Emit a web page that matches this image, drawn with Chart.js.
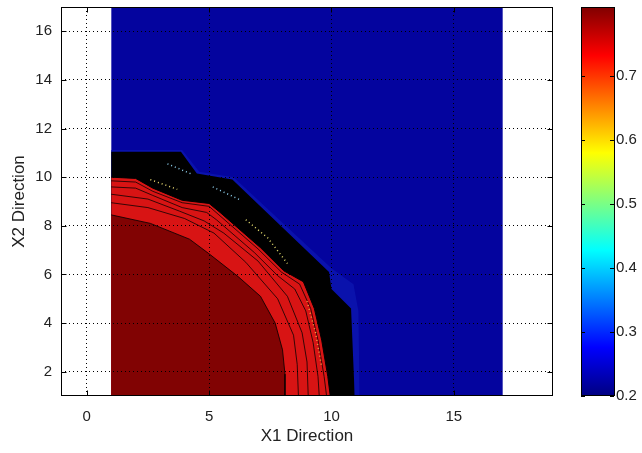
<!DOCTYPE html>
<html>
<head>
<meta charset="utf-8">
<script src="https://cdn.jsdelivr.net/npm/chart.js@4/dist/chart.umd.min.js"></script>
<style>
  html, body { margin: 0; padding: 0; background: #fff; }
  canvas { display: block; }
</style>
</head>
<body>
<canvas id="plot" width="642" height="453"></canvas>
<script>
// axis setup
const xRange = [-1.05, 19.05];
const yRange = [1, 17];
const cbRange = [0.2, 0.808];
const xTicks = [0, 5, 10, 15];
const yTicks = [2, 4, 6, 8, 10, 12, 14, 16];
const cbTicks = [0.2, 0.3, 0.4, 0.5, 0.6, 0.7];

// contour boundaries, [x1, x2] pairs
const fieldTop = [[1, 17], [17, 17]];
const fringeEdge = [[1, 11.12], [3.9, 11.12], [4.6, 10.22], [6.0, 10.0], [10.0, 6.25], [10.9, 5.6], [11.1, 4.5], [11.15, 1]];
const outerEdge = [[1, 11.05], [3.85, 11.05], [4.5, 10.15], [5.95, 9.9], [9.9, 6.1], [10.0, 5.4], [10.8, 4.6], [10.95, 1]];
const innerEdge = [[1, 10.0], [2.0, 9.95], [2.7, 9.55], [3.9, 9.05], [5.0, 8.92], [5.45, 8.55], [7.1, 7.1], [8.05, 6.15], [8.85, 5.7], [9.3, 4.6], [9.6, 3.3], [9.85, 1.8], [9.95, 1]];
const lineE = [[1, 9.85], [2.0, 9.8], [2.7, 9.42], [3.9, 8.95], [5.0, 8.8], [5.4, 8.45], [7.0, 7.05], [7.95, 6.1], [8.7, 5.6], [9.15, 4.6], [9.45, 3.3], [9.7, 1.8], [9.8, 1]];
const lineD = [[1, 9.6], [2.0, 9.55], [2.7, 9.25], [3.9, 8.75], [4.9, 8.55], [5.3, 8.25], [6.85, 6.9], [7.8, 5.95], [8.5, 5.4], [8.95, 4.5], [9.25, 3.2], [9.45, 1.8], [9.5, 1]];
const lineC = [[1, 9.3], [2.5, 9.1], [3.8, 8.6], [4.8, 8.2], [5.6, 7.7], [7.0, 6.55], [8.2, 5.1], [8.8, 3.6], [9.0, 2.4], [9.05, 1]];
const lineB = [[1, 8.95], [2.5, 8.75], [4.0, 8.3], [5.2, 7.7], [6.5, 6.5], [7.8, 5.0], [8.45, 3.5], [8.6, 2.3], [8.65, 1]];
const darkCore = [[1, 8.45], [2.6, 8.1], [4.2, 7.45], [5.0, 6.85], [6.2, 5.9], [7.1, 5.1], [7.7, 4.0], [8.0, 2.9], [8.1, 1.9], [8.1, 1]];

// speckled contour lines inside the dark band
const cyanDots1 = [[3.3, 10.55], [4.35, 10.1]];
const cyanDots2 = [[5.15, 9.6], [6.3, 9.05]];
const yellowDots1 = [[2.6, 9.9], [3.7, 9.5]];
const yellowDots2 = [[6.5, 8.25], [7.4, 7.5], [8.2, 6.45]];
const orangeDots = [[9.0, 4.9], [9.35, 3.6], [9.6, 2.2]];

// jet colormap used for the colorbar
const jetStops = [0, 0.125, 0.375, 0.625, 0.875, 1];
const jetColors = ["#000080", "#0000ff", "#00ffff", "#ffff00", "#ff0000", "#800000"];

function pts(arr) {
  return arr.map(([x, y]) => ({ x, y }));
}

function region(data, color, order, border) {
  return {
    data: pts(data),
    backgroundColor: color,
    borderColor: border || "rgba(0,0,0,0)",
    borderWidth: border ? 1 : 0,
    fill: "start",
    pointRadius: 0,
    tension: 0,
    order: order,
  };
}

function contour(data, color, order, dash) {
  return {
    data: pts(data),
    borderColor: color,
    borderWidth: dash ? 1.5 : 1,
    borderDash: dash || [],
    fill: false,
    pointRadius: 0,
    tension: 0,
    order: order,
  };
}

const frame = {
  id: "frame",
  afterDraw(chart) {
    const { ctx, chartArea: a, scales } = chart;
    ctx.save();
    ctx.strokeStyle = "#000";
    ctx.lineWidth = 1;
    const L = Math.round(a.left) + 0.5, R = Math.round(a.right) - 0.5;
    const T = Math.round(a.top) + 0.5, B = Math.round(a.bottom) - 0.5;
    ctx.strokeRect(L, T, R - L, B - T);

    ctx.beginPath();
    xTicks.forEach((v) => {
      const p = Math.round(scales.x.getPixelForValue(v)) + 0.5;
      ctx.moveTo(p, B); ctx.lineTo(p, B - 5);
      ctx.moveTo(p, T); ctx.lineTo(p, T + 5);
    });
    yTicks.forEach((v) => {
      const p = Math.round(scales.y.getPixelForValue(v)) + 0.5;
      ctx.moveTo(L, p); ctx.lineTo(L + 5, p);
      ctx.moveTo(R, p); ctx.lineTo(R - 5, p);
    });
    ctx.stroke();

    // colorbar
    const cb = scales.cb;
    const cl = Math.round(a.right) + 28, cw = 33;
    const ct = cb.getPixelForValue(cbRange[1]), cbot = cb.getPixelForValue(cbRange[0]);
    const g = ctx.createLinearGradient(0, cbot, 0, ct);
    jetStops.forEach((s, i) => g.addColorStop(s, jetColors[i]));
    ctx.fillStyle = g;
    ctx.fillRect(cl, ct, cw, cbot - ct);
    ctx.strokeStyle = "#000";
    ctx.strokeRect(cl + 0.5, Math.round(ct) + 0.5, cw, Math.round(cbot - ct) - 1);
    ctx.beginPath();
    cbTicks.forEach((v) => {
      const p = Math.round(cb.getPixelForValue(v)) + 0.5;
      ctx.moveTo(cl, p); ctx.lineTo(cl + 4, p);
      ctx.moveTo(cl + cw, p); ctx.lineTo(cl + cw - 4, p);
    });
    ctx.stroke();
    ctx.restore();
  },
};

Chart.defaults.font.family = "'Liberation Sans', Arial, sans-serif";
Chart.defaults.font.size = 15;
Chart.defaults.color = "#222";

new Chart(document.getElementById("plot"), {
  type: "line",
  data: {
    datasets: [
      contour(cyanDots1, "#8fd0ee", 0, [1, 3]),
      contour(cyanDots2, "#8fd0ee", 0, [1, 3]),
      contour(yellowDots1, "#e8d870", 0, [1, 3]),
      contour(yellowDots2, "#e8e070", 0, [1, 3]),
      contour(orangeDots, "#f0a040", 0, [1, 3]),
      contour(lineE, "rgba(0,0,0,0.75)", 1),
      contour(lineD, "rgba(0,0,0,0.75)", 1),
      contour(lineC, "rgba(0,0,0,0.75)", 1),
      contour(lineB, "rgba(0,0,0,0.75)", 1),
      region(darkCore, "#810303", 2, "rgba(0,0,0,0.8)"),
      region(innerEdge, "#d81414", 3, "#000"),
      region(outerEdge, "#000000", 4),
      region(fringeEdge, "#0a12ac", 5),
      region(fieldTop, "#04049e", 6),
    ],
  },
  options: {
    responsive: false,
    animation: false,
    events: [],
    layout: { padding: { top: 7, left: 0, right: 0, bottom: 0 } },
    plugins: { legend: { display: false }, tooltip: { enabled: false } },
    scales: {
      x: {
        type: "linear",
        min: xRange[0],
        max: xRange[1],
        afterBuildTicks: (s) => { s.ticks = xTicks.map((v) => ({ value: v })); },
        afterFit: (s) => { s.height = 57; s.paddingLeft = 0; s.paddingRight = 0; },
        grid: { color: "#000", lineWidth: 1, drawTicks: false, z: 1 },
        border: { display: false, dash: [1, 3] },
        ticks: { padding: 12, color: "#222" },
        title: { display: true, text: "X1 Direction", font: { size: 17 }, padding: { top: 0, bottom: 6 }, color: "#222" },
      },
      y: {
        type: "linear",
        position: "left",
        min: yRange[0],
        max: yRange[1],
        afterBuildTicks: (s) => { s.ticks = yTicks.map((v) => ({ value: v })); },
        afterFit: (s) => { s.width = 61; s.paddingTop = 0; s.paddingBottom = 0; },
        grid: { color: "#000", lineWidth: 1, drawTicks: false, z: 1 },
        border: { display: false, dash: [1, 3] },
        ticks: { padding: 9, color: "#222" },
        title: { display: true, text: "X2 Direction", font: { size: 17 }, padding: { top: 9, bottom: 0 }, color: "#222" },
      },
      cb: {
        type: "linear",
        axis: "y",
        position: "right",
        min: cbRange[0],
        max: cbRange[1],
        afterBuildTicks: (s) => { s.ticks = cbTicks.map((v) => ({ value: v })); },
        afterFit: (s) => { s.width = 89; s.paddingTop = 0; s.paddingBottom = 0; },
        grid: { display: false, drawTicks: false },
        border: { display: false },
        ticks: { padding: 63, color: "#222", callback: (v) => v.toFixed(1) },
      },
    },
  },
  plugins: [frame],
});
</script>
</body>
</html>
